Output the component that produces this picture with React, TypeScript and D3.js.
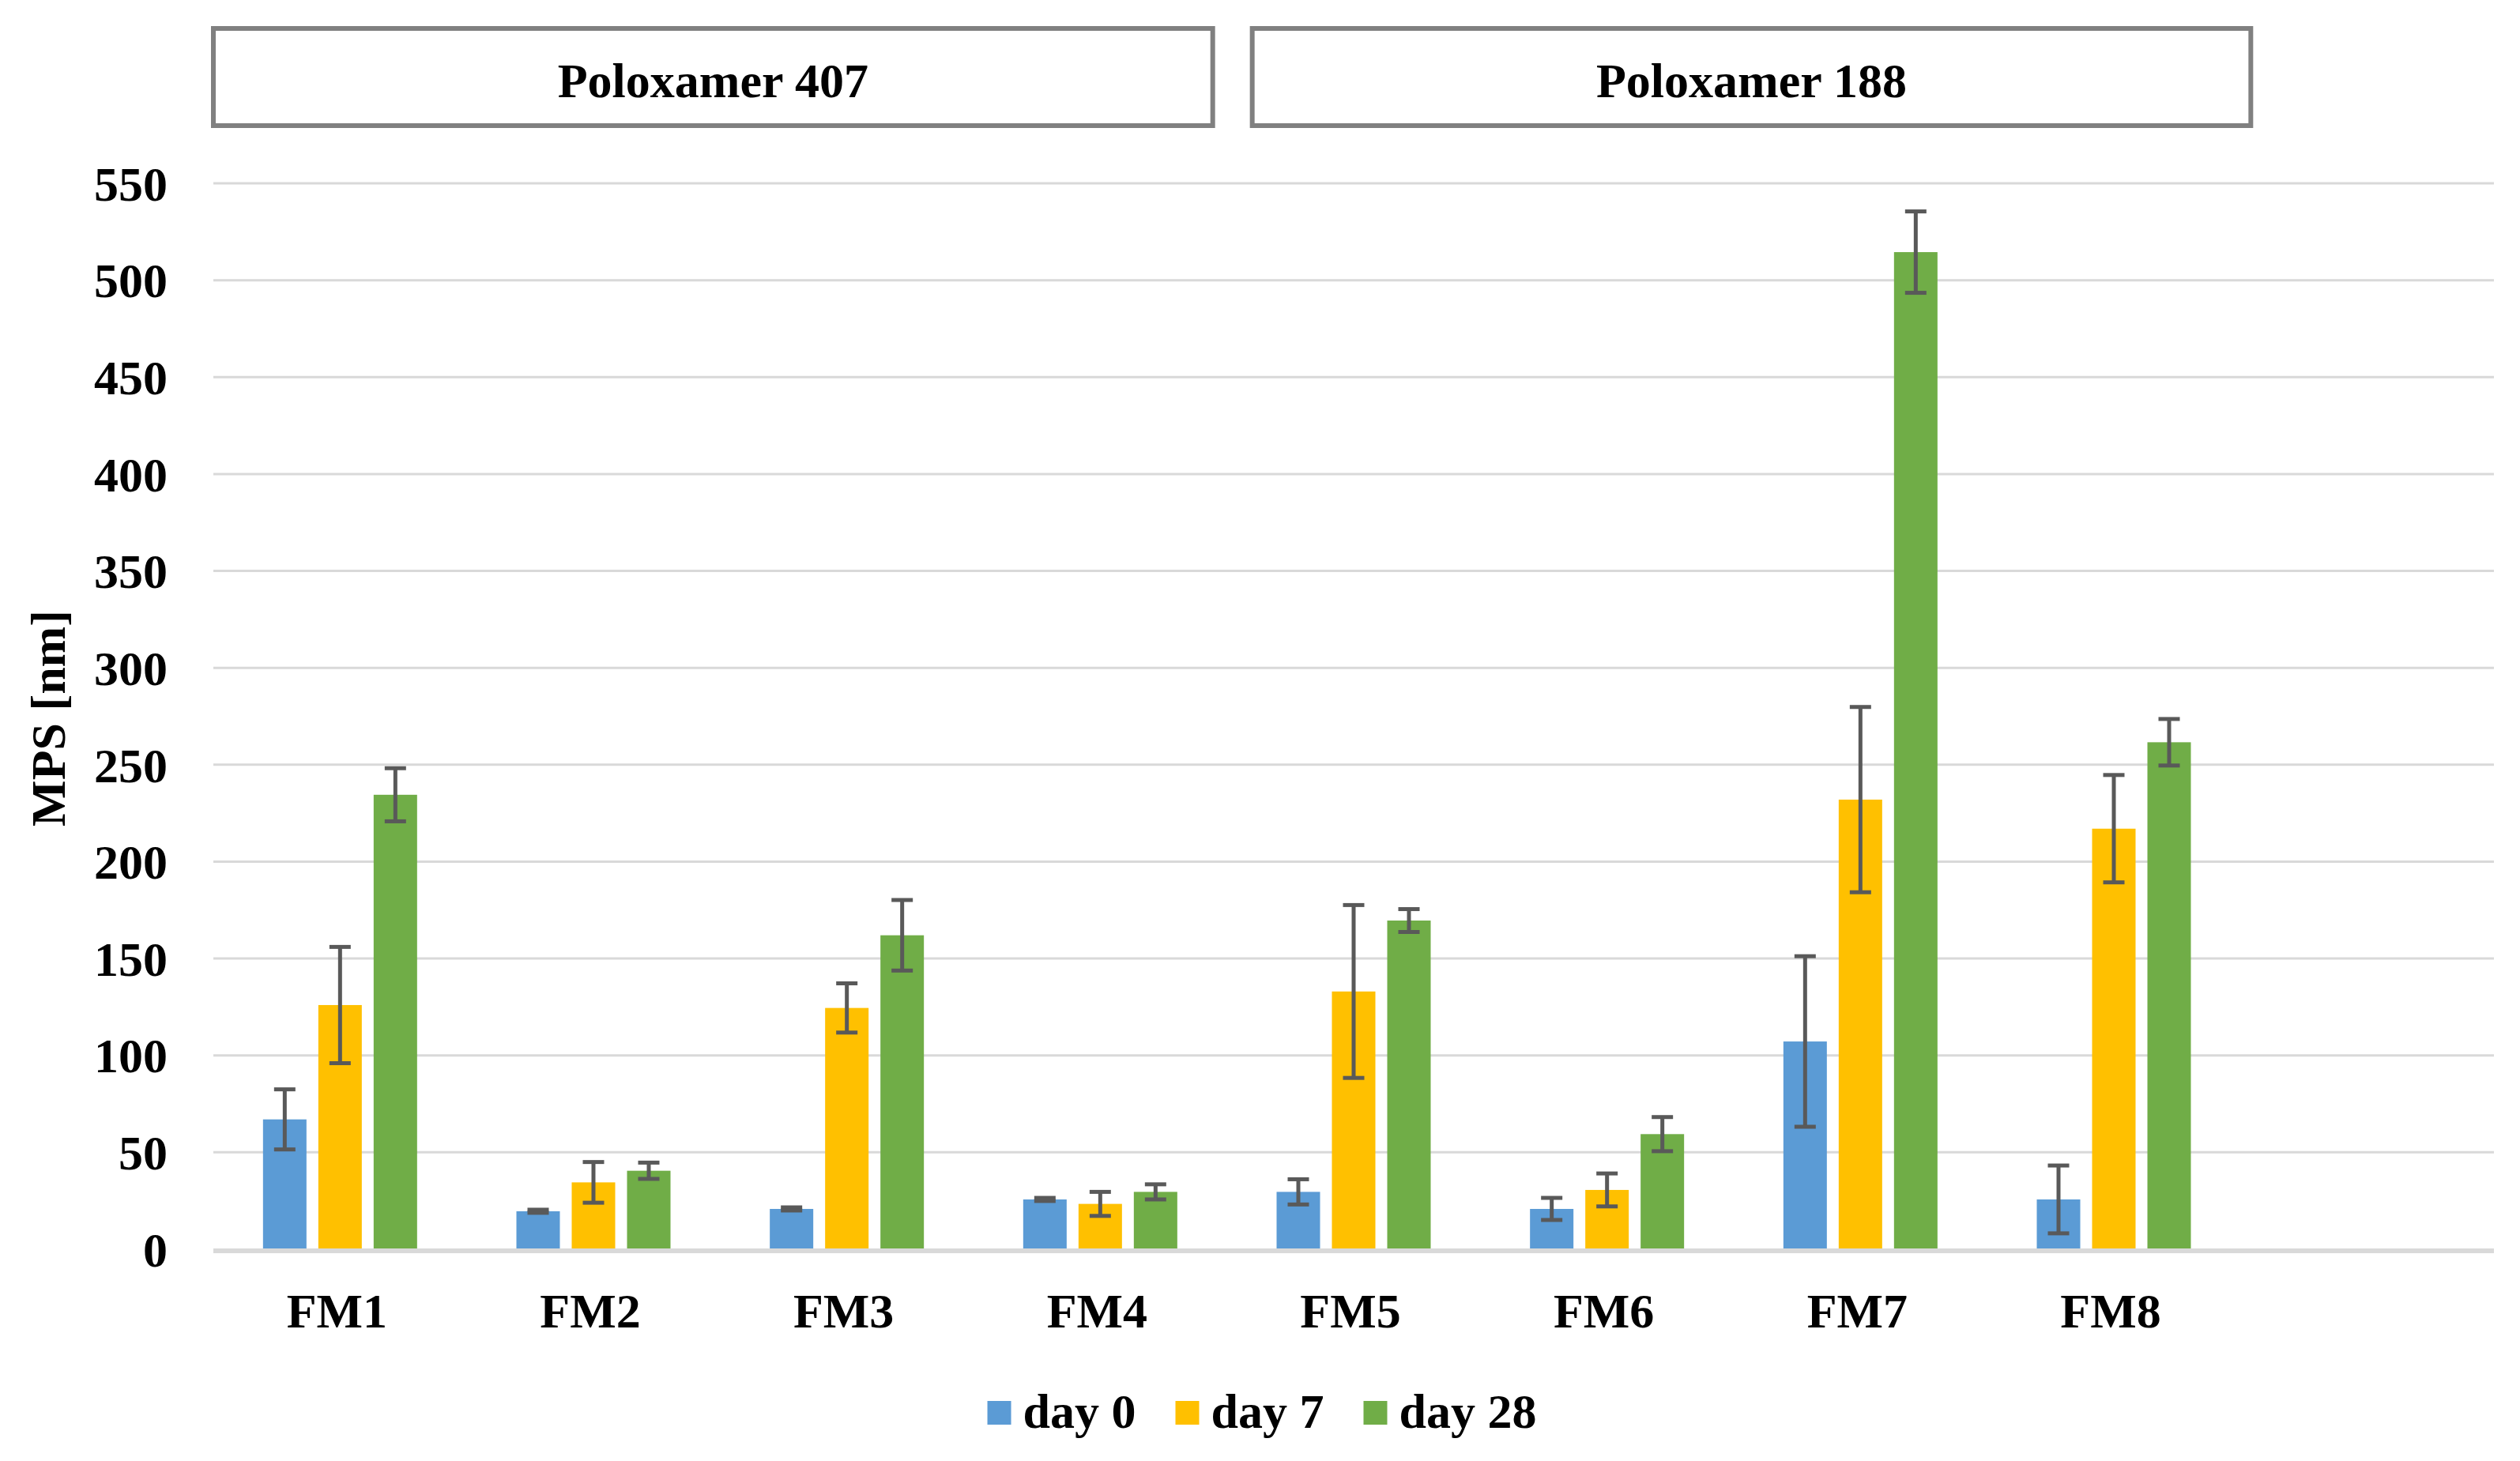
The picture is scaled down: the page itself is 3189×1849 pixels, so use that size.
import { useEffect, useRef } from 'react';
import * as d3 from 'd3';

const categories = ['FM1', 'FM2', 'FM3', 'FM4', 'FM5', 'FM6', 'FM7', 'FM8', ''];
const seriesNames = ['day 0', 'day 7', 'day 28'];
const seriesColors = ['#5B9BD5', '#FFC000', '#70AD47'];

const day0 = [67, 19.6, 20.8, 25.7, 29.6, 20.8, 107.2, 25.7];
const day0Err = [15.5, 0.8, 0.8, 0.8, 6.5, 5.7, 44, 17.5];
const day7 = [126, 34.5, 124.5, 23.4, 133, 30.6, 232, 217];
const day7Err = [30, 10.5, 12.7, 6.2, 44.6, 8.5, 47.8, 27.7];
const day28 = [234.5, 40.5, 162, 29.6, 169.6, 59.4, 514.5, 261.6];
const day28Err = [13.7, 4.2, 18.2, 3.9, 5.9, 8.8, 21, 12];

const yTicks = [0, 50, 100, 150, 200, 250, 300, 350, 400, 450, 500, 550];
const groups = [
  { label: 'Poloxamer 407', from: 'FM1', to: 'FM4' },
  { label: 'Poloxamer 188', from: 'FM5', to: 'FM8' },
];

const FONT = '"Liberation Serif", "Times New Roman", serif';

export default function App() {
  const svgRef = useRef<SVGSVGElement>(null);
  const width = 3189;
  const height = 1849;

  useEffect(() => {
    if (!svgRef.current) return;
    const svg = d3.select(svgRef.current);
    svg.selectAll('*').remove();

    const margin = { left: 270, right: 33, top: 232, bottom: 268 };
    const plotBottom = height - margin.bottom;

    const x = d3.scaleBand<string>()
      .domain(categories)
      .range([margin.left, width - margin.right])
      .padding(0);

    const y = d3.scaleLinear()
      .domain([0, 550])
      .range([plotBottom, margin.top]);

    const barW = 55;
    const gap = 15;
    const inner = d3.scaleBand<string>()
      .domain(seriesNames)
      .range([0, 3 * barW + 2 * gap])
      .paddingInner(gap / (barW + gap))
      .paddingOuter(0);
    const groupW = 3 * barW + 2 * gap;

    // gridlines
    svg.append('g')
      .selectAll('line')
      .data(yTicks.filter(t => t > 0))
      .join('line')
      .attr('x1', margin.left)
      .attr('x2', width - margin.right)
      .attr('y1', d => y(d))
      .attr('y2', d => y(d))
      .attr('stroke', '#D9D9D9')
      .attr('stroke-width', 3);

    // y tick labels
    svg.append('g')
      .selectAll('text')
      .data(yTicks)
      .join('text')
      .attr('x', 212)
      .attr('y', d => y(d))
      .attr('dy', '0.35em')
      .attr('text-anchor', 'end')
      .style('font-family', FONT)
      .style('font-weight', 'bold')
      .style('font-size', '62px')
      .text(d => d);

    // y axis title
    svg.append('text')
      .attr('transform', `translate(82, 909) rotate(-90)`)
      .attr('text-anchor', 'middle')
      .style('font-family', FONT)
      .style('font-weight', 'bold')
      .style('font-size', '62px')
      .text('MPS [nm]');

    const series = [
      { name: seriesNames[0], values: day0, errs: day0Err, color: seriesColors[0] },
      { name: seriesNames[1], values: day7, errs: day7Err, color: seriesColors[1] },
      { name: seriesNames[2], values: day28, errs: day28Err, color: seriesColors[2] },
    ];

    const bars = series.flatMap(s =>
      s.values.map((v, i) => ({
        cat: categories[i],
        name: s.name,
        value: v,
        err: s.errs[i],
        color: s.color,
      }))
    );

    const barX = (d: { cat: string; name: string }) =>
      (x(d.cat) || 0) + x.bandwidth() / 2 - groupW / 2 + (inner(d.name) || 0);

    svg.append('g')
      .selectAll('rect')
      .data(bars)
      .join('rect')
      .attr('x', d => barX(d))
      .attr('y', d => y(d.value))
      .attr('width', inner.bandwidth())
      .attr('height', d => y(0) - y(d.value))
      .attr('fill', d => d.color);

    // zero line
    svg.append('line')
      .attr('x1', margin.left)
      .attr('x2', width - margin.right)
      .attr('y1', y(0) + 2)
      .attr('y2', y(0) + 2)
      .attr('stroke', '#D9D9D9')
      .attr('stroke-width', 6);

    // error bars
    const eb = svg.append('g')
      .attr('stroke', '#595959')
      .attr('stroke-width', 5);
    const capW = 27;
    bars.forEach(d => {
      const cx = barX(d) + inner.bandwidth() / 2;
      const top = y(d.value + d.err);
      const bot = y(d.value - d.err);
      eb.append('line').attr('x1', cx).attr('x2', cx).attr('y1', top).attr('y2', bot);
      eb.append('line').attr('x1', cx - capW / 2).attr('x2', cx + capW / 2).attr('y1', top).attr('y2', top);
      eb.append('line').attr('x1', cx - capW / 2).attr('x2', cx + capW / 2).attr('y1', bot).attr('y2', bot);
    });

    // category labels
    svg.append('g')
      .selectAll('text')
      .data(categories.filter(c => c !== ''))
      .join('text')
      .attr('x', d => (x(d) || 0) + x.bandwidth() / 2 - 4)
      .attr('y', 1680)
      .attr('text-anchor', 'middle')
      .style('font-family', FONT)
      .style('font-weight', 'bold')
      .style('font-size', '62px')
      .text(d => d);

    // group header boxes
    const step = x.step();
    const boxes = [
      { ...groups[0], x1: (x(groups[0].from) || 0), x2: (x(groups[0].to) || 0) + step - 18 },
      { ...groups[1], x1: (x(groups[1].from) || 0) + 32, x2: (x(groups[1].to) || 0) + step + 13 },
    ];
    const hb = svg.append('g');
    boxes.forEach(b => {
      hb.append('rect')
        .attr('x', b.x1)
        .attr('y', 36)
        .attr('width', b.x2 - b.x1)
        .attr('height', 123)
        .attr('fill', 'white')
        .attr('stroke', '#808080')
        .attr('stroke-width', 6);
      hb.append('text')
        .attr('x', (b.x1 + b.x2) / 2)
        .attr('y', 123)
        .attr('text-anchor', 'middle')
        .style('font-family', FONT)
        .style('font-weight', 'bold')
        .style('font-size', '62px')
        .text(b.label);
    });

    // legend
    const lg = svg.append('g');
    const sq = 30;
    let cursor = 0;
    series.forEach(s => {
      const g = lg.append('g').attr('transform', `translate(${cursor},0)`);
      g.append('rect')
        .attr('x', 0)
        .attr('y', 1773)
        .attr('width', sq)
        .attr('height', sq)
        .attr('fill', s.color);
      const t = g.append('text')
        .attr('x', sq + 15)
        .attr('y', 1807)
        .style('font-family', FONT)
        .style('font-weight', 'bold')
        .style('font-size', '62px')
        .text(s.name);
      const tw = (t.node() as SVGTextElement).getComputedTextLength();
      cursor += sq + 15 + tw + 50;
    });
    const total = cursor - 50;
    lg.attr('transform', `translate(${1597 - total / 2},0)`);
  }, []);

  return (
    <svg
      ref={svgRef}
      width={width}
      height={height}
      style={{ position: 'absolute', left: 0, top: 0, background: 'white' }}
    />
  );
}
